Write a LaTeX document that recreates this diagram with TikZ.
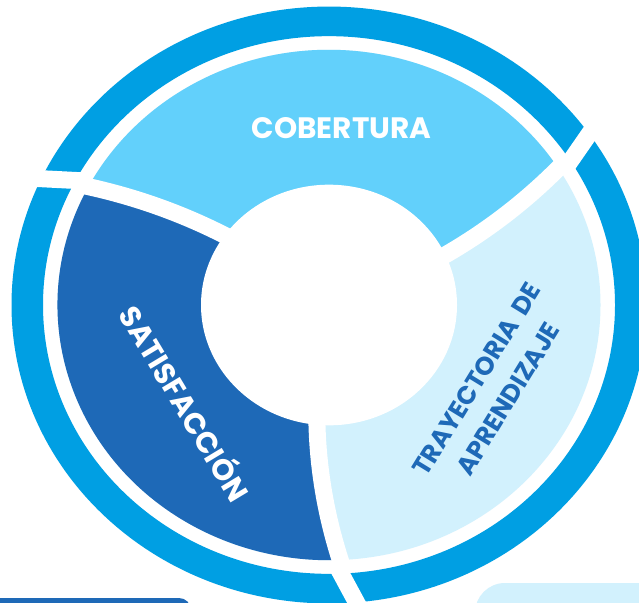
\documentclass[tikz,border=0pt]{standalone}
\usepackage{fontspec}
\setmainfont{Poppins}
\usetikzlibrary{calc}

\newlength{\du}
\setlength{\du}{1pt}

\definecolor{ringblue}{rgb}{0.000000, 0.623529, 0.890196}
\definecolor{cobblue}{rgb}{0.384314, 0.815686, 0.984314}
\definecolor{traylight}{rgb}{0.823529, 0.945098, 0.992157}
\definecolor{satblue}{rgb}{0.117647, 0.411765, 0.717647}

\tikzset{
  cut/.style={draw=white, line width=17\du},
  segtext/.style={font=\bfseries\fontsize{29.5}{40}\selectfont, align=center, inner sep=0pt},
  traytext/.style={font=\bfseries\fontsize{25.5}{37}\selectfont, align=center, inner sep=0pt, text=satblue},
}

\begin{document}
\begin{tikzpicture}[x=1\du,y=1\du]
\fill[white] (0,0) rectangle (639,-602);
\useasboundingbox (0,0) rectangle (639,-602);
% boxes under the wheel, cut by the page
\fill[satblue, rounded corners=12\du] (-30,-598) rectangle (191,-650);
\fill[traylight, rounded corners=30\du] (475,-583) rectangle (690,-650);
\begin{scope}[shift={(329,-305)}, yscale=0.94]
% outer ring
\fill[ringblue, even odd rule] (0,0) circle (317.5) (0,0) circle (286);
% the three parts
\fill[traylight] (0,0) circle (271.5);
\fill[cobblue] (0,0) -- plot[domain=128:271.5, samples=25] ({24.6+7.8*(\x-128)/144}:\x)
  arc[start angle=32.37, end angle=152.37, radius=271.5]
  -- plot[domain=271.5:128, samples=25] ({144.6+7.8*(\x-128)/144}:\x) -- cycle;
\fill[satblue] (0,0) -- plot[domain=128:271.5, samples=25] ({144.6+7.8*(\x-128)/144}:\x)
  arc[start angle=152.37, end angle=272.37, radius=271.5]
  -- plot[domain=271.5:128, samples=25] ({264.6+7.8*(\x-128)/144}:\x) -- cycle;
% white cuts
\foreach \a in {35,155,275}{
  \draw[cut] plot[domain=100:280, samples=25] ({\a-10.4+7.8*(\x-128)/144}:\x);
  \coordinate (p1) at ({\a-2.6}:286);
  \coordinate (p2) at (\a:318);
  \draw[cut] ($(p1)!-0.3!(p2)$) -- ($(p1)!1.7!(p2)$);
}
% hole
\fill[white] (0,0) circle (128);
\end{scope}
% texts
\node[segtext, text=white] (cob) at (341.5,-127.6) {COBERTURA};
\node[segtext, text=white, rotate=-59] (sat) at (187,-402) {SATISFACCIÓN};
\node[traytext, rotate=58.5] (tray) at (492.5,-389) {TRAYECTORIA\hspace{0.35em}DE\\APRENDIZAJE};
\end{tikzpicture}
\end{document}
